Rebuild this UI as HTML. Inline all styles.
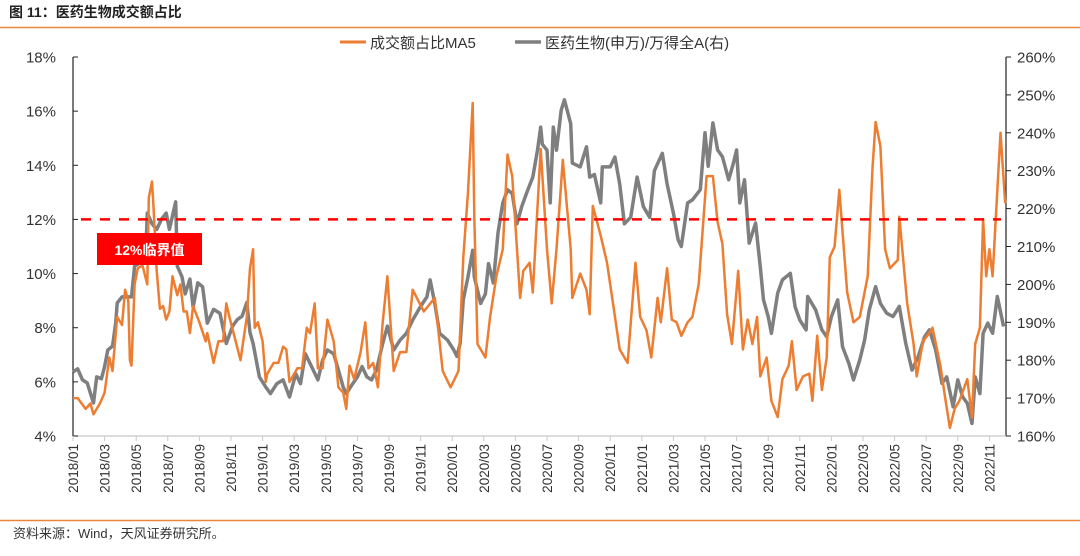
<!DOCTYPE html>
<html><head><meta charset="utf-8">
<style>
html,body{margin:0;padding:0;background:#fff;}
body{width:1080px;height:551px;overflow:hidden;position:relative;font-family:"Liberation Sans","Noto Sans CJK SC",sans-serif;}
svg text{font-family:"Liberation Sans","Noto Sans CJK SC",sans-serif;}
</style></head>
<body>
<svg id="chart" width="1080" height="551" viewBox="0 0 1080 551">
  <text x="9" y="17" font-size="14" font-weight="bold" fill="#222">图 11：医药生物成交额占比</text>
  <line x1="0" y1="27.5" x2="1080" y2="27.5" stroke="#e9883c" stroke-width="1.5"/>
  <line x1="0" y1="520.5" x2="1080" y2="520.5" stroke="#e9883c" stroke-width="1.5"/>
  <text x="13" y="538" font-size="13" fill="#333">资料来源：Wind，天风证券研究所。</text>
  <g>
    <line x1="340" y1="42" x2="366" y2="42" stroke="#ed7d31" stroke-width="3"/>
    <text x="370" y="48" font-size="15" fill="#333">成交额占比MA5</text>
    <line x1="515" y1="42" x2="541" y2="42" stroke="#7f7f7f" stroke-width="3.5"/>
    <text x="545" y="48" font-size="15" fill="#333">医药生物(申万)/万得全A(右)</text>
  </g>
  <g id="axes"></g>
  <g id="series"></g>
  <g>
    <rect x="97" y="233" width="105" height="32" fill="#ff0000"/>
    <text x="149.5" y="255" font-size="14" font-weight="bold" fill="#fff" text-anchor="middle">12%临界值</text>
  </g>
</svg>
<script>
// months since 2018/01 and values
const orangeMonths = [0.0,0.3,0.8,1.1,1.3,1.7,2.0,2.3,2.5,2.8,3.1,3.3,3.5,3.6,3.7,3.9,4.1,4.4,4.7,4.8,5.0,5.1,5.3,5.5,5.7,5.9,6.1,6.3,6.6,6.8,7.0,7.2,7.4,7.6,8.0,8.4,8.5,8.9,9.2,9.5,9.7,9.9,10.3,10.6,11.0,11.2,11.4,11.5,11.7,12.0,12.2,12.3,12.7,13.0,13.3,13.5,13.7,14.2,14.5,14.8,15.0,15.3,15.5,15.8,16.1,16.5,16.8,17.1,17.3,17.5,17.8,18.2,18.5,18.7,19.0,19.3,19.6,19.9,20.3,20.7,21.1,21.5,22.2,22.9,23.4,23.9,24.4,24.7,25.0,25.3,25.4,25.6,26.1,26.4,26.8,27.2,27.5,27.8,28.1,28.3,28.5,28.9,29.1,29.6,30.0,30.3,30.6,31.0,31.5,31.6,32.1,32.5,32.7,32.9,33.4,33.8,34.2,34.6,35.1,35.6,35.9,36.3,36.6,37.0,37.2,37.6,37.9,38.2,38.5,38.9,39.2,39.6,40.1,40.5,40.8,41.1,41.4,41.7,42.1,42.4,42.7,43.0,43.3,43.5,43.9,44.2,44.6,44.9,45.3,45.5,45.8,46.2,46.6,46.8,47.1,47.4,47.7,47.9,48.2,48.5,49.0,49.4,49.8,50.3,50.6,50.8,51.1,51.4,51.7,52.2,52.3,52.8,53.2,53.4,53.8,54.2,54.4,54.9,55.2,55.5,55.8,56.1,56.6,56.9,57.1,57.4,57.6,57.8,58.0,58.2,58.7,59.0];
const orangeValues = [5.4,5.4,5.0,5.2,4.8,5.2,5.6,6.9,6.4,8.4,8.1,9.4,9.0,6.8,6.6,9.6,10.2,10.3,9.6,12.8,13.4,12.4,10.1,8.7,8.8,8.3,8.6,9.9,9.2,9.6,8.6,8.6,7.8,8.8,8.2,7.5,7.8,6.7,7.5,7.5,8.9,8.4,7.5,6.8,8.4,10.2,10.9,8.0,8.2,7.5,6.0,6.3,6.7,6.7,7.3,7.2,6.0,6.5,6.5,8.0,7.8,8.9,6.5,6.5,8.3,7.5,5.8,5.6,5.0,6.6,6.1,7.1,8.2,6.5,6.7,5.8,8.2,9.9,6.4,7.1,7.1,9.4,8.6,9.1,6.4,5.8,6.4,10.6,13.0,16.3,12.1,7.4,6.9,8.4,9.9,10.9,14.4,13.6,10.9,9.1,10.1,10.4,9.3,14.6,10.9,8.9,10.9,14.2,10.9,9.1,10.0,9.4,8.5,12.5,11.4,10.4,8.8,7.2,6.7,10.4,8.4,7.9,6.9,9.1,8.2,10.2,8.3,8.2,7.7,8.2,8.4,9.6,13.6,13.6,11.9,11.1,8.5,7.4,10.1,7.2,8.3,7.4,8.4,6.2,6.9,5.3,4.7,6.1,6.6,7.5,5.7,6.2,6.3,5.3,7.7,5.7,6.9,10.6,11.0,13.1,9.3,8.2,8.4,9.9,13.9,15.6,14.7,10.9,10.2,10.5,12.1,8.9,7.4,6.2,7.5,7.8,8.0,6.6,5.4,4.3,5.0,5.3,6.1,4.7,7.4,8.0,12.0,9.9,10.9,9.9,15.2,12.6];
const grayMonths = [0.0,0.3,0.6,0.9,1.3,1.5,1.8,2.0,2.2,2.5,2.7,2.8,3.1,3.4,3.7,3.9,4.2,4.6,4.7,5.0,5.3,5.6,5.9,6.1,6.5,6.6,6.9,7.1,7.4,7.6,7.9,8.2,8.5,8.9,9.3,9.7,10.1,10.4,10.7,11.0,11.2,11.4,11.8,12.2,12.5,12.9,13.3,13.7,14.1,14.4,14.7,15.1,15.5,15.8,16.1,16.5,16.8,17.1,17.3,17.7,18.0,18.3,18.6,18.9,19.2,19.6,19.9,20.3,20.7,21.1,21.5,22.0,22.4,22.6,22.9,23.2,23.7,24.1,24.3,24.5,24.7,25.0,25.3,25.4,25.8,26.1,26.3,26.6,26.9,27.2,27.5,27.8,28.1,28.4,28.7,29.1,29.4,29.6,29.7,30.0,30.2,30.4,30.6,30.9,31.1,31.5,31.6,32.1,32.5,32.7,33.0,33.4,33.5,34.0,34.3,34.6,34.9,35.3,35.7,36.1,36.5,36.8,37.3,37.6,38.0,38.3,38.5,38.9,39.2,39.7,40.0,40.2,40.5,40.8,41.1,41.5,41.8,42.0,42.2,42.5,42.8,43.2,43.5,43.7,44.0,44.2,44.6,44.9,45.4,45.7,46.0,46.4,46.5,47.0,47.4,47.7,48.0,48.4,48.7,49.1,49.4,49.8,50.1,50.4,50.8,51.1,51.5,51.9,52.3,52.7,53.1,53.5,53.9,54.2,54.6,55.0,55.3,55.7,56.0,56.3,56.6,56.9,57.1,57.4,57.6,57.9,58.2,58.5,58.9];
const grayValues = [176.9,177.7,174.8,174.0,168.7,175.6,175.1,178.3,182.7,183.7,189.8,195.1,196.7,196.7,196.7,204.8,205.6,207.4,218.8,216.0,214.5,217.2,218.8,214.5,221.8,204.8,202.0,197.5,201.4,194.0,200.4,199.4,189.8,193.4,192.4,184.4,189.0,190.7,191.6,195.2,187.3,184.4,175.6,172.9,171.2,173.8,174.8,170.3,176.4,173.8,181.7,178.3,174.8,180.0,182.7,181.7,177.4,172.9,171.2,173.8,175.6,178.3,175.6,174.8,177.4,184.4,189.0,182.7,185.3,187.1,190.6,194.2,196.7,201.2,195.0,187.1,185.3,182.7,181.0,184.4,196.0,202.0,209.0,202.0,195.0,197.5,205.5,200.4,213.6,221.5,225.0,224.0,216.0,220.5,224.0,228.3,235.4,241.5,237.0,235.4,221.5,241.5,235.4,246.0,248.7,242.4,232.0,231.0,236.3,228.3,229.0,221.5,231.0,231.0,233.6,226.5,216.0,217.7,228.3,220.5,217.7,230.0,234.6,226.5,218.8,211.8,210.0,221.5,222.3,225.0,240.0,231.2,242.6,235.5,233.7,227.6,232.0,235.5,221.5,227.6,210.9,216.2,204.6,195.9,191.5,187.1,197.7,201.2,202.9,194.1,190.6,188.0,196.8,193.3,188.0,186.2,191.5,195.9,183.6,179.2,174.8,180.1,185.3,193.3,199.4,195.0,192.4,191.5,194.2,184.5,177.4,181.0,186.2,188.0,182.7,173.9,175.6,167.7,174.8,170.4,168.6,163.3,175.6,171.2,187.1,189.8,187.1,196.8,188.9];
const leftTicks = [4,6,8,10,12,14,16,18];
const rightTicks = [160,170,180,190,200,210,220,230,240,250,260];
const xLabels = ["2018/01","2018/03","2018/05","2018/07","2018/09","2018/11","2019/01","2019/03","2019/05","2019/07","2019/09","2019/11","2020/01","2020/03","2020/05","2020/07","2020/09","2020/11","2021/01","2021/03","2021/05","2021/07","2021/09","2021/11","2022/01","2022/03","2022/05","2022/07","2022/09","2022/11"];
const threshold = 12;

const NS = "http://www.w3.org/2000/svg";
const X0 = 73, MW = 15.8, PT = 57, PB = 436, XR = 1006;
const xs = m => X0 + m * MW;
const yL = v => PB - (v - 4) / 14 * (PB - PT);
const yR = v => PB - (v - 160) / 100 * (PB - PT);
function mk(tag, attrs, parent){ const e = document.createElementNS(NS, tag); for (const k in attrs) e.setAttribute(k, attrs[k]); parent.appendChild(e); return e; }
const axes = document.getElementById('axes'), series = document.getElementById('series');

let e = mk('line', {x1:X0, y1:PT, x2:X0, y2:PB, stroke:'#222', 'stroke-width':1.2}, axes);


e = mk('line', {x1:XR, y1:PT, x2:XR, y2:PB, stroke:'#222', 'stroke-width':1.2}, axes);


e = mk('line', {x1:X0, y1:PB, x2:XR, y2:PB, stroke:'#c8c8c8', 'stroke-width':1.2}, axes);



leftTicks.forEach(v => {
  const y = yL(v);
  const t = mk('line', {x1:X0, y1:y, x2:X0+5, y2:y, stroke:'#222'}, axes);
  
  
  const l = mk('text', {x:56, y:y+5.5, 'font-size':15, fill:'#333', 'text-anchor':'end'}, axes);
  l.textContent = v + '%';
  
  
});
rightTicks.forEach(v => {
  const y = yR(v);
  const t = mk('line', {x1:XR, y1:y, x2:XR+5, y2:y, stroke:'#222'}, axes);
  
  
  const l = mk('text', {x:1017, y:y+5.5, 'font-size':15, fill:'#333'}, axes);
  l.textContent = v + '%';
  
  
});
xLabels.forEach((s, i) => {
  const x = xs(i * 2);
  const t = mk('line', {x1:x, y1:PB, x2:x, y2:PB+5, stroke:'#c8c8c8'}, axes);
  
  
  const l = mk('text', {x:0, y:0, 'font-size':13.5, fill:'#333', 'text-anchor':'end', transform:`translate(${x+5},${PB+8}) rotate(-90)`}, axes);
  l.textContent = s;
  
  
});

const gp = grayMonths.map((m, i) => xs(m).toFixed(1) + ',' + yR(grayValues[i]).toFixed(1)).join(' ');
const g = mk('polyline', {points:gp, fill:'none', stroke:'#7f7f7f', 'stroke-width':3.5, 'stroke-linejoin':'round'}, series);


const op = orangeMonths.map((m, i) => xs(m).toFixed(1) + ',' + yL(orangeValues[i]).toFixed(1)).join(' ');
const o = mk('polyline', {points:op, fill:'none', stroke:'#ed7d31', 'stroke-width':2.5, 'stroke-linejoin':'round'}, series);


const th = mk('line', {x1:X0+8, y1:yL(threshold), x2:XR-5, y2:yL(threshold), stroke:'#ff0000', 'stroke-width':2.5, 'stroke-dasharray':'10,9'}, series);


</script>
</body></html>
